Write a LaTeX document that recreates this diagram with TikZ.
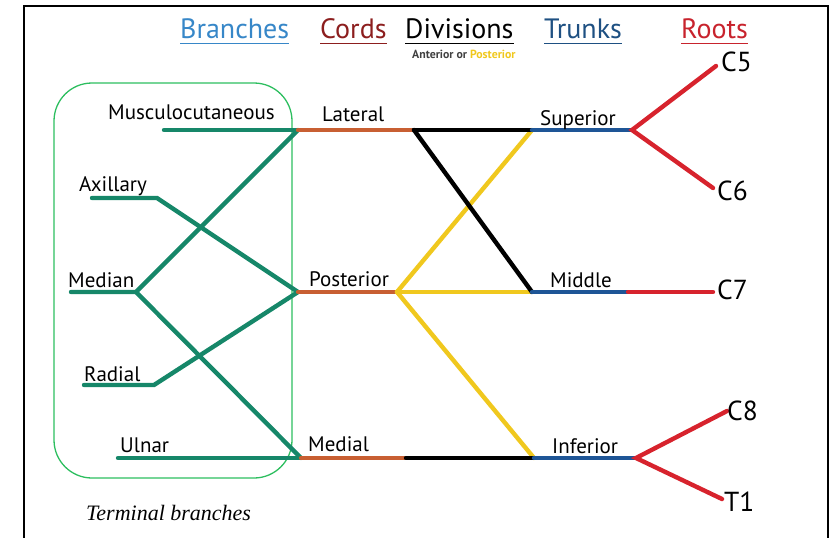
\documentclass[tikz,border=0pt]{standalone}
\usepackage{fontspec}
\setmainfont{PT Sans}
\newfontfamily\tbfont{Liberation Serif}
\definecolor{nerveG}{RGB}{22,135,105}
\definecolor{cordO}{RGB}{200,95,50}
\definecolor{divY}{RGB}{240,200,30}
\definecolor{trunkB}{RGB}{30,85,150}
\definecolor{rootR}{RGB}{215,35,45}
\definecolor{boxG}{RGB}{45,190,95}
\definecolor{hBranch}{RGB}{55,135,200}
\definecolor{hCord}{RGB}{140,30,30}
\definecolor{hTrunk}{RGB}{30,80,130}
\definecolor{hRoot}{RGB}{200,35,45}
\tikzset{
  wire/.style={line width=4.4pt, line cap=round, line join=miter},
  gw/.style={wire, nerveG},
  ow/.style={wire, cordO},
  kw/.style={wire, black},
  yw/.style={wire, divY},
  bw/.style={wire, trunkB},
  rw/.style={wire, rootR},
  lbl/.style={anchor=base west, inner sep=0pt, font=\fontsize{21}{21}\selectfont},
  rootlbl/.style={anchor=base west, inner sep=0pt, font=\fontsize{27.5}{27.5}\selectfont},
  hdr/.style={anchor=base west, inner sep=0pt, font=\fontsize{28}{28}\selectfont},
}
\begin{document}
\begin{tikzpicture}[x=1pt,y=-1pt]
\useasboundingbox (0,0) rectangle (836,538);
% frame
\draw[line width=2pt] (24,540) -- (24,6) -- (828,6) -- (828,540);
% green box
\node[draw=boxG, line width=1.3pt, rounded corners=38pt, minimum width=238pt, minimum height=395pt, inner sep=0pt] (box) at (173,280.5) {};
% coordinates
\coordinate (muscS) at (164,130);
\coordinate (L) at (298,130);
\coordinate (latE) at (414,130);
\coordinate (sup) at (532,130);
\coordinate (supR) at (632,130);
\coordinate (c5e) at (716,66);
\coordinate (c6e) at (713,188);
\coordinate (axS) at (92,198);
\coordinate (axB) at (157,198);
\coordinate (P) at (298,292);
\coordinate (postE) at (397,292);
\coordinate (mid) at (532,292);
\coordinate (midR) at (628,292);
\coordinate (c7e) at (713,292);
\coordinate (medS) at (71,292);
\coordinate (medB) at (136,292);
\coordinate (radS) at (84,385);
\coordinate (radB) at (154,385);
\coordinate (ulS) at (118,458);
\coordinate (M) at (301,458);
\coordinate (medE) at (406,458);
\coordinate (inf) at (534,458);
\coordinate (infR) at (636,458);
\coordinate (c8e) at (727,411);
\coordinate (t1e) at (722,499);
% branches
\draw[gw] (muscS) -- (L);
\draw[gw] (axS) -- (axB) -- (P);
\draw[gw] (medS) -- (medB) -- (L);
\draw[gw] (medB) -- (M);
\draw[gw] (radS) -- (radB) -- (P);
\draw[gw] (ulS) -- (M);
% cords
\draw[ow] (L) -- (latE);
\draw[ow] (P) -- (postE);
\draw[ow] (M) -- (medE);
% divisions
\draw[yw] (postE) -- (sup);
\draw[yw] (postE) -- (mid);
\draw[yw] (postE) -- (inf);
\draw[kw] (latE) -- (sup);
\draw[kw] (latE) -- (mid);
\draw[kw] (medE) -- (inf);
% trunks
\draw[bw] (sup) -- (supR);
\draw[bw] (mid) -- (midR);
\draw[bw] (inf) -- (infR);
% roots
\draw[rw] (c5e) -- (supR) -- (c6e);
\draw[rw] (midR) -- (c7e);
\draw[rw] (c8e) -- (infR) -- (t1e);
% labels
\node[lbl] (tMusc) at (108,119) {Musculocutaneous};
\node[lbl] (tAx) at (79,191) {Axillary};
\node[lbl] (tMed) at (68,287) {Median};
\node[lbl] (tRad) at (84,381) {Radial};
\node[lbl] (tUl) at (120,452) {Ulnar};
\node[lbl] (tLat) at (322,121) {Lateral};
\node[lbl] (tPost) at (309,286) {Posterior};
\node[lbl] (tMedial) at (308,451) {Medial};
\node[lbl] (tSup) at (540,125) {Superior};
\node[lbl] (tMid) at (550,287) {Middle};
\node[lbl] (tInf) at (552,453) {Inferior};
\node[rootlbl] (tC5) at (721,71) {C5};
\node[rootlbl] (tC6) at (717,200) {C6};
\node[rootlbl] (tC7) at (717,299) {C7};
\node[rootlbl] (tC8) at (727,420) {C8};
\node[rootlbl] (tT1) at (724,511) {T1};
% headers
\node[hdr, text=hBranch] (hB) at (180,38) {Branches};
\node[hdr, text=hCord] (hC) at (320,38) {Cords};
\node[hdr, text=black] (hD) at (405,38) {Divisions};
\node[hdr, text=hTrunk] (hT) at (544,38) {Trunks};
\node[hdr, text=hRoot] (hR) at (681,38) {Roots};
\foreach \n/\c in {hB/hBranch,hC/hCord,hD/black,hT/hTrunk,hR/hRoot}{
  \draw[\c, line width=1pt] ([yshift=-5pt]\n.base west) -- ([yshift=-5pt]\n.base east);
}
\node[anchor=base west, inner sep=0pt, font=\fontsize{11.8}{11.8}\selectfont\bfseries] (hSub) at (412,58) {\textcolor{black!75}{Anterior or} \textcolor{divY}{Posterior}};
\node[anchor=base west, inner sep=0pt, font=\tbfont\itshape\fontsize{22}{22}\selectfont] (tTerm) at (86,520) {Terminal branches};
\end{tikzpicture}
\end{document}
